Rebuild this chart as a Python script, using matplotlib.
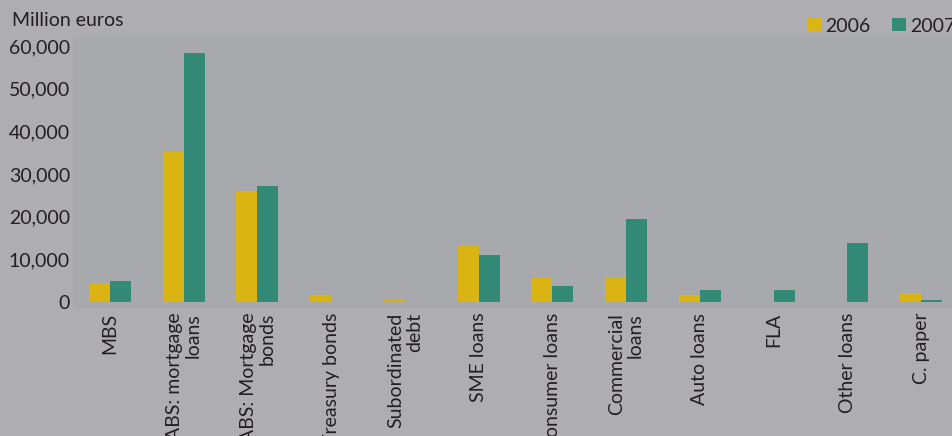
import matplotlib
matplotlib.use('Agg')
import matplotlib.pyplot as plt
import numpy as np
from matplotlib.ticker import FuncFormatter

plt.rcParams['font.family'] = ['Lato', 'DejaVu Sans']

# 数据 (million euros)
类别 = ['MBS', 'ABS: mortgage\nloans', 'ABS: Mortgage\nbonds', 'Treasury bonds',
      'Subordinated\ndebt', 'SME loans', 'Consumer loans', 'Commercial\nloans',
      'Auto loans', 'FLA', 'Other loans', 'C. paper']
值2006 = [4400, 35100, 25900, 1550, 550, 13100, 5600, 5600, 1550, 0, 0, 2000]
值2007 = [4900, 58300, 27200, 0, 0, 11000, 3750, 19400, 2800, 2800, 13800, 450]
年份 = ['2006', '2007']

外底色 = '#aeaeb2'
内底色 = '#a8a9ad'
黄 = '#d9b413'
绿 = '#338b77'
字色 = '#231f20'

fig = plt.figure(figsize=(9.52, 4.36), dpi=100, facecolor=外底色)
ax = fig.add_axes([73/952, (436-308)/436, (958-73)/952, (308-37)/436])
ax.set_facecolor(内底色)

x = np.arange(len(类别))
w = 0.285
b1 = ax.bar(x - w/2, 值2006, w, color=黄, label=年份[0])
b2 = ax.bar(x + w/2, 值2007, w, color=绿, label=年份[1])

ax.set_xlim(-0.5, len(类别) - 0.5)
ax.set_ylim(-1400, 62100)
ax.set_yticks(range(0, 60001, 10000))
ax.yaxis.set_major_formatter(FuncFormatter(lambda v, p: f'{int(v):,}'))
ax.set_xticks(x)
ax.set_xticklabels(类别, rotation=90, ha='center', va='top', ma='right',
                   linespacing=1.12)
ax.tick_params(axis='both', length=0, labelsize=14, colors=字色)
ax.tick_params(axis='y', pad=2.2)
ax.tick_params(axis='x', pad=3.5)
for s in ax.spines.values():
    s.set_visible(False)

fig.text(12/952, 1 - 21/436, 'Million euros', fontsize=14, color=字色,
         ha='left', va='center')

leg = fig.legend(handles=[b1, b2], labels=年份, loc='center left',
                 bbox_to_anchor=(807/952, 1 - 26/436), ncol=2, frameon=False,
                 fontsize=14, handlelength=0.7, handleheight=0.7,
                 handletextpad=0.25, columnspacing=1.1, borderpad=0, borderaxespad=0)
for t in leg.get_texts():
    t.set_color(字色)

fig.savefig('out.png', dpi=100, facecolor=外底色)
